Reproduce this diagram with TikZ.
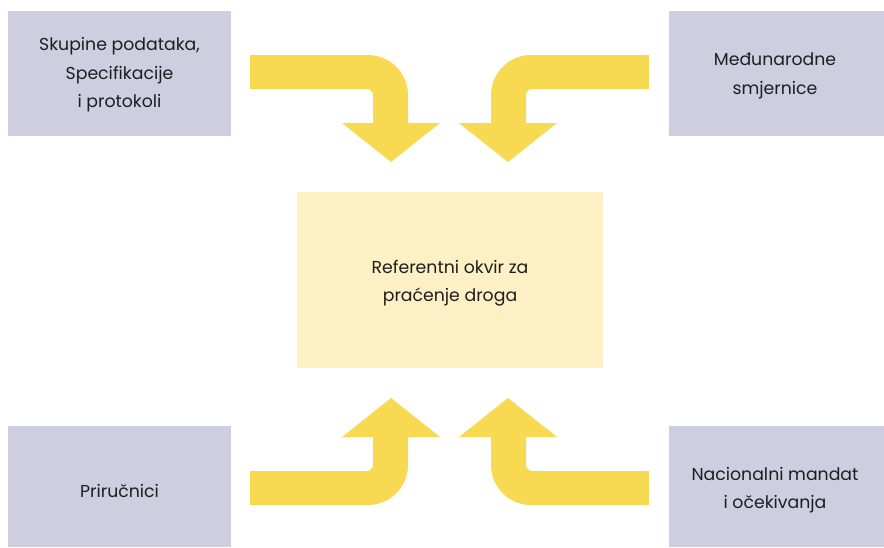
\documentclass[tikz,border=0pt]{standalone}
\usepackage{fontspec}
\setmainfont{Poppins}
\definecolor{boxlav}{HTML}{CFCDE0}
\definecolor{arrowyel}{HTML}{F7D952}
\definecolor{centrefill}{HTML}{FDF0C4}
\definecolor{txt}{HTML}{1E1E1E}
\tikzset{
  sidebox/.style={fill=boxlav, draw=none},
  centrebox/.style={fill=centrefill, draw=none},
  lbl/.style={text=txt, align=center, font=\fontsize{17.3}{28.5}\selectfont},
  bentarrow/.style={fill=arrowyel, draw=none}
}
\newcommand{\bentshape}{%
  \fill[bentarrow] (-199.5,-225) -- (-81.5,-225)
    .. controls (-59.5,-225) and (-41.5,-207) .. (-41.5,-185)
    -- (-41.5,-157) -- (-9.5,-157) -- (-58.5,-118) -- (-107.5,-157)
    -- (-76.5,-157) -- (-76.5,-185)
    .. controls (-76.5,-188) and (-79.5,-191) .. (-82.5,-191)
    -- (-199.5,-191) -- cycle;}
\begin{document}
\begin{tikzpicture}[x=1pt,y=-1pt]
\path[use as bounding box] (0,0) rectangle (884,547);
\fill[white] (0,0) rectangle (884,547);
% side boxes
\path[sidebox] (8,11) rectangle (231,136);
\path[sidebox] (669,11) rectangle (884,136);
\path[sidebox] (8,426) rectangle (231,547);
\path[sidebox] (669,426) rectangle (884,547);
\path[centrebox] (297,192) rectangle (603,368);
% labels
\node[lbl] (tl) at (119.5,75) {Skupine podataka,\\Specifikacije\\i protokoli};
\node[lbl] (tr) at (775,76) {Međunarodne\\smjernice};
\node[lbl] (bl) at (119.5,491) {Priručnici};
\node[lbl] (br) at (775,490) {Nacionalni mandat\\i očekivanja};
\node[lbl] (c) at (450,283) {Referentni okvir za\\praćenje droga};
% arrows
\begin{scope}[shift={(449.5,280)}]
  \bentshape
\end{scope}
\begin{scope}[shift={(449.5,280)}, xscale=-1]
  \bentshape
\end{scope}
\begin{scope}[shift={(449.5,280)}, yscale=-1]
  \bentshape
\end{scope}
\begin{scope}[shift={(449.5,280)}, xscale=-1, yscale=-1]
  \bentshape
\end{scope}
\end{tikzpicture}
\end{document}
